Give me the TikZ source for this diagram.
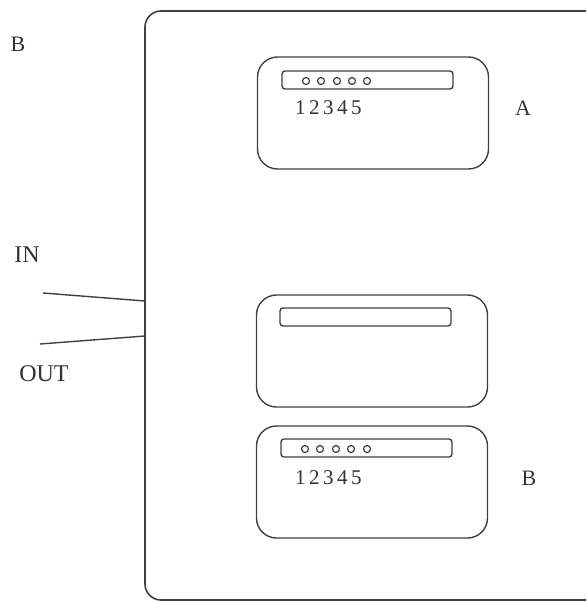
\documentclass[tikz,border=0pt]{standalone}
\usepackage{fontspec}
\setmainfont{Liberation Serif}
\begin{document}
\begin{tikzpicture}[x=1pt,y=-1pt,
  ink/.style={draw=black!75, line width=1.4pt},
  outerbox/.style={ink, line width=1.6pt, rounded corners=16pt, inner sep=0pt},
  unitbox/.style={ink, rounded corners=20pt, inner sep=0pt, minimum width=231pt, minimum height=112pt},
  slotbox/.style={ink, rounded corners=3pt, inner sep=0pt, minimum width=171pt, minimum height=18pt},
  led/.style={ink, line width=1.2pt, circle, inner sep=0pt, minimum size=7pt},
  digits/.style={font=\fontsize{21}{21}\selectfont, text=black!80, inner sep=0pt},
  lbl/.style={font=\fontsize{22}{22}\selectfont, text=black!80, inner sep=0pt},
  sidelbl/.style={font=\fontsize{24}{24}\selectfont, text=black!80, inner sep=0pt}]
\useasboundingbox (0,0) rectangle (586,602);
\clip (0,0) rectangle (586,602);
% outer cabinet
\node[outerbox, minimum width=460pt, minimum height=589pt] (outer) at (375,305.5) {};
% unit A
\node[unitbox] (unitA) at (373,113) {};
\node[slotbox] (slotA) at (367.5,80) {};
\foreach \i/\x in {1/306,2/321,3/337,4/352,5/367}
  \node[led] (ledA\i) at (\x,81) {};
\node[digits, anchor=west] (numA) at (295,108) {1\hspace{3.5pt}2\hspace{3.5pt}3\hspace{3.5pt}4\hspace{3.5pt}5};
\node[lbl] (labA) at (523,108) {A};
% middle unit
\node[unitbox] (unitM) at (372,351) {};
\node[slotbox] (slotM) at (365.5,317) {};
% unit B
\node[unitbox] (unitB) at (372,482) {};
\node[slotbox] (slotB) at (366.5,448) {};
\foreach \i/\x in {1/305,2/320,3/336,4/351,5/367}
  \node[led] (ledB\i) at (\x,449) {};
\node[digits, anchor=west] (numB) at (295,478) {1\hspace{3.5pt}2\hspace{3.5pt}3\hspace{3.5pt}4\hspace{3.5pt}5};
\node[lbl] (labB) at (529,478) {B};
% top-left label
\node[lbl] (labTop) at (18,44) {B};
% IN / OUT
\node[sidelbl] (inlbl) at (27,255) {IN};
\node[sidelbl] (outlbl) at (44,374) {OUT};
\coordinate (inFree) at (43,293);
\coordinate (inEnd) at (145,301);
\coordinate (outFree) at (40,344);
\coordinate (outEnd) at (145,336);
\draw[ink] (inFree) -- (inEnd);
\draw[ink] (outFree) -- (outEnd);
\end{tikzpicture}
\end{document}
